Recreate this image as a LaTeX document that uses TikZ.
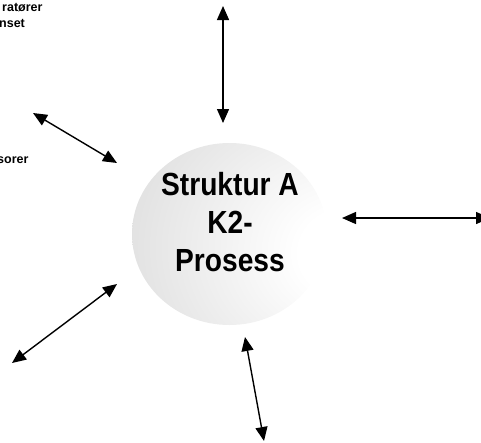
\documentclass[tikz,border=0pt]{standalone}
\usepackage{fontspec}
\setmainfont{Liberation Sans}
\newfontfamily\procfont[FakeStretch=0.88]{Liberation Sans}
\usetikzlibrary{arrows.meta,shapes.geometric}

% soft radial fill, brightest to the right of the middle
\pgfdeclareradialshading{procshade}{\pgfpoint{34bp}{-6bp}}{%
  color(0bp)=(white);
  color(12bp)=(white);
  color(55bp)=(black!15);
  color(90bp)=(black!28);
  color(100bp)=(black!28)}

\tikzset{
  link/.style={line width=1.4pt, {Triangle[length=14pt,width=12pt]}-{Triangle[length=14pt,width=12pt]}},
  smalltext/.style={font=\fontsize{12.5}{14}\selectfont\bfseries, inner sep=0pt},
  bigtext/.style={font=\procfont\fontsize{32}{38}\selectfont\bfseries, align=center, inner sep=0pt}
}

\begin{document}
\begin{tikzpicture}[x=1pt,y=-1pt]
  \useasboundingbox (0,0) rectangle (481,442);

  % the central process
  \node[ellipse, minimum width=195pt, minimum height=182pt, inner sep=0pt,
        shading=procshade] (proc) at (229.5,234) {};
  \node[bigtext] (proctext) at (230,222.5) {Struktur A\\K2-\\Prosess};

  % free ends of the connectors
  \coordinate (topA) at (223,6);     \coordinate (topB) at (223,123);
  \coordinate (ulA)  at (33,113);    \coordinate (ulB)  at (117,163);
  \coordinate (rA)   at (342,218);   \coordinate (rB)   at (490,218);
  \coordinate (llA)  at (117,284);   \coordinate (llB)  at (12,363);
  \coordinate (bA)   at (245,337);   \coordinate (bB)   at (264,441);

  \draw[link] (topA) -- (topB);
  \draw[link] (ulA) -- (ulB);
  \draw[link] (rA) -- (rB);
  \draw[link] (llA) -- (llB);
  \draw[link] (bA) -- (bB);

  % labels running in from the left edge
  \node[smalltext, anchor=base west] (lab1) at (2,11) {ratører};
  \node[smalltext, anchor=base west] (lab2) at (-1,27) {nset};
  \node[smalltext, anchor=base west] (lab3) at (-3,163) {sorer};
\end{tikzpicture}
\end{document}
